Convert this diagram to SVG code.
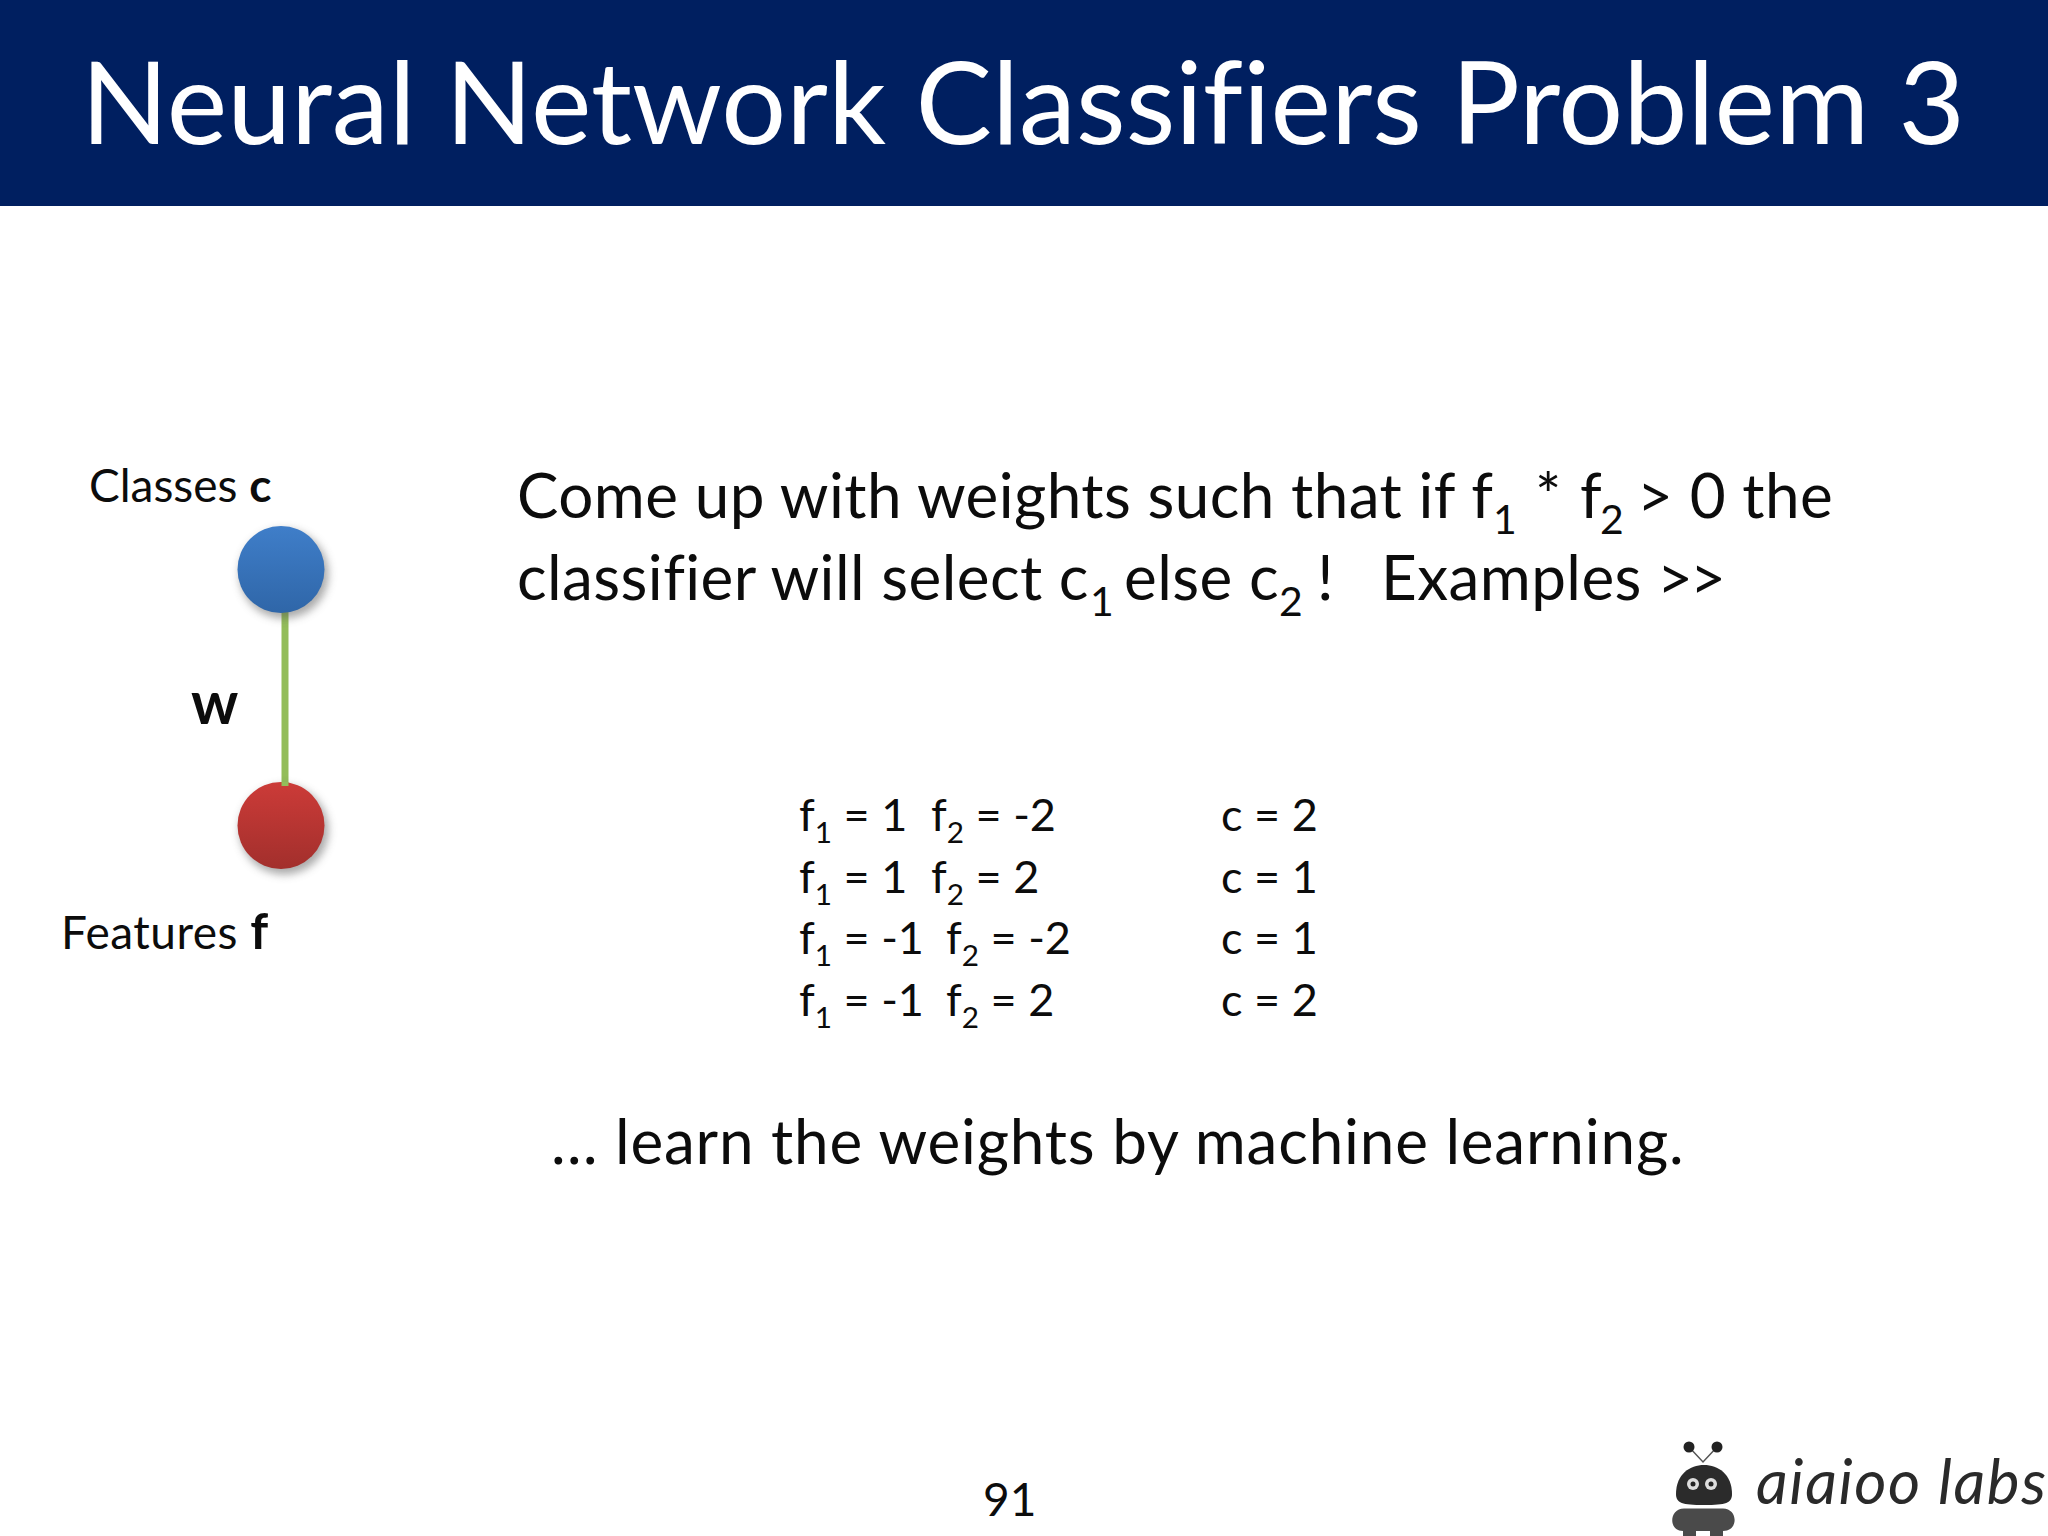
<svg xmlns="http://www.w3.org/2000/svg" width="2048" height="1536" viewBox="0 0 2048 1536">
<style>
text{font-family:"Lato","Open Sans","Liberation Sans",sans-serif;fill:#0c0c0c;font-variant-ligatures:none}
.title{font-size:114px;fill:#fff}
.body{font-size:62px;letter-spacing:.42px}
.label{font-size:46px}
.tbl{font-size:45px}
.sub{font-size:.66em}
.b{font-weight:700}
</style>
<defs>
<linearGradient id="gb" x1="0" y1="0" x2="0" y2="1"><stop offset="0" stop-color="#3f7ec9"/><stop offset="1" stop-color="#2f66a8"/></linearGradient>
<linearGradient id="gr" x1="0" y1="0" x2="0" y2="1"><stop offset="0" stop-color="#cc3b38"/><stop offset="1" stop-color="#a22f2c"/></linearGradient>
<filter id="sh" x="-30%" y="-30%" width="160%" height="160%"><feGaussianBlur stdDeviation="4"/></filter>
</defs>
<rect width="2048" height="1536" fill="#fff"/>
<rect id="header" width="2048" height="206" fill="#001f60"/>
<text class="title" x="81" y="144" textLength="1884" lengthAdjust="spacingAndGlyphs">Neural Network Classifiers Problem 3</text>
<g id="connectors"><line x1="285" y1="606" x2="285" y2="786" stroke="#93bd5a" stroke-width="7"/></g>
<g id="node-c"><circle cx="284" cy="574" r="44.500" fill="#555" opacity=".5" filter="url(#sh)"/><circle cx="281" cy="569.500" r="43.500" fill="url(#gb)"/></g>
<g id="node-f"><circle cx="284" cy="830" r="44.500" fill="#555" opacity=".5" filter="url(#sh)"/><circle cx="281" cy="825.500" r="43.500" fill="url(#gr)"/><line x1="285" y1="782" x2="285" y2="786" stroke="#93bd5a" stroke-width="7"/></g>
<text class="label" x="89" y="502">Classes <tspan class="b">c</tspan></text>
<text class="label" x="61" y="949" letter-spacing=".5">Features <tspan class="b" font-size="50">f</tspan></text>
<text class="b" x="191" y="724" font-size="59">w</text>
<text class="body" x="517" y="518">Come up with weights such that if f<tspan class="sub" x="1493" dy="16">1</tspan><tspan x="1535" dy="-16">*</tspan><tspan x="1580">f</tspan><tspan class="sub" x="1600" dy="16">2</tspan><tspan x="1637" dy="-16">&gt; 0 the</tspan></text>
<text class="body" x="517" y="600">classifier will select c<tspan class="sub" x="1090" dy="16">1</tspan><tspan x="1124" dy="-16">else c</tspan><tspan class="sub" x="1279" dy="16">2</tspan><tspan x="1317" dy="-16">!</tspan><tspan x="1381">Examples</tspan><tspan x="1657" letter-spacing="-3">&gt;&gt;</tspan></text>
<text class="tbl" x="799" y="831">f<tspan class="sub" dy="12">1</tspan><tspan dy="-12"> = 1</tspan><tspan x="931">f</tspan><tspan class="sub" dy="12">2</tspan><tspan dy="-12"> = -2</tspan><tspan x="1221">c = 2</tspan></text>
<text class="tbl" x="799" y="893">f<tspan class="sub" dy="12">1</tspan><tspan dy="-12"> = 1</tspan><tspan x="931">f</tspan><tspan class="sub" dy="12">2</tspan><tspan dy="-12"> = 2</tspan><tspan x="1221">c = 1</tspan></text>
<text class="tbl" x="799" y="954">f<tspan class="sub" dy="12">1</tspan><tspan dy="-12"> = -1</tspan><tspan x="946">f</tspan><tspan class="sub" dy="12">2</tspan><tspan dy="-12"> = -2</tspan><tspan x="1221">c = 1</tspan></text>
<text class="tbl" x="799" y="1016">f<tspan class="sub" dy="12">1</tspan><tspan dy="-12"> = -1</tspan><tspan x="946">f</tspan><tspan class="sub" dy="12">2</tspan><tspan dy="-12"> = 2</tspan><tspan x="1221">c = 2</tspan></text>
<text class="body" x="551" y="1164" textLength="1133">… learn the weights by machine learning.</text>
<text x="983" y="1516" font-size="46">91</text>
<g id="logo">
<path d="M1689 1447L1703 1462L1717 1447" fill="none" stroke="#555" stroke-width="1.500"/>
<circle cx="1689" cy="1447" r="5.500" fill="#222"/>
<circle cx="1717" cy="1447" r="5.500" fill="#222"/>
<path d="M1676 1494C1676 1474 1690 1465 1704 1465C1718 1465 1732 1474 1732 1494C1732 1503 1726 1505 1704 1505C1682 1505 1676 1503 1676 1494Z" fill="#2b2b2b"/>
<circle cx="1693" cy="1484" r="6" fill="#ddd"/><circle cx="1693" cy="1484" r="2.500" fill="#222"/>
<circle cx="1711" cy="1484" r="6" fill="#ddd"/><circle cx="1711" cy="1484" r="2.500" fill="#222"/>
<path d="M1684 1508.500H1723C1738 1508.500 1739 1531 1723 1531V1536H1710V1531H1696V1536H1683V1531C1668 1531 1669 1508.500 1684 1508.500Z" fill="#4a4a4a"/>
<text x="1756" y="1504" font-size="62" font-style="italic" textLength="290" lengthAdjust="spacing" style="fill:#2a2a2a">aiaioo labs</text>
</g>
</svg>
